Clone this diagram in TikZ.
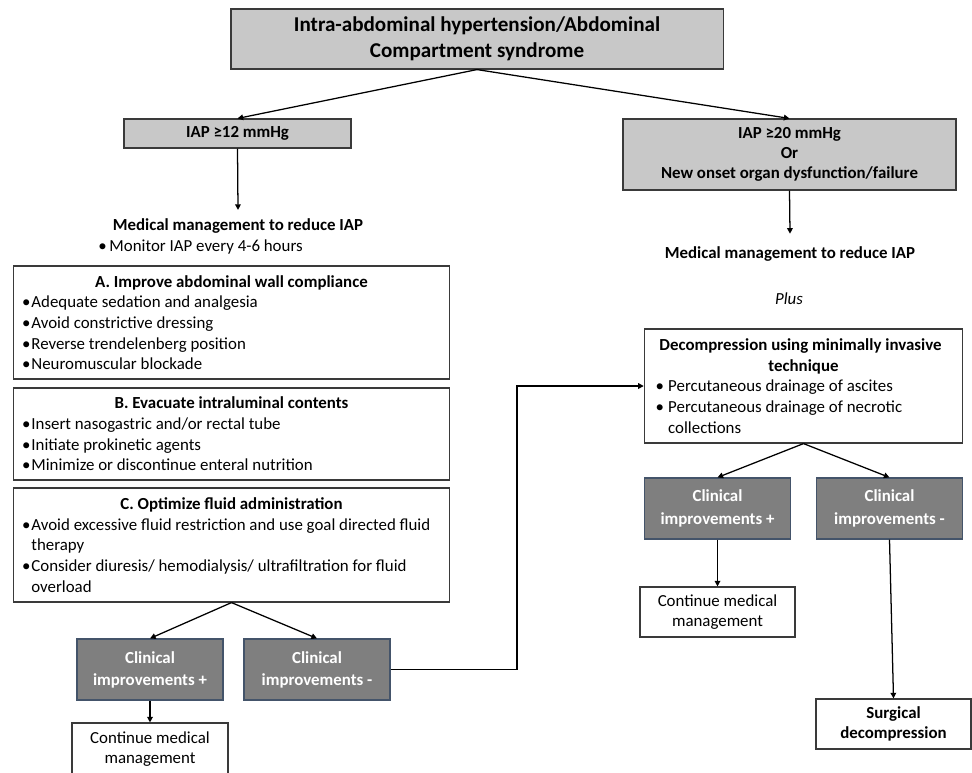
\documentclass[tikz,border=0pt]{standalone}
\usepackage{fontspec}
\setmainfont{Carlito}
\usepackage{tikz}
\usetikzlibrary{positioning,calc,arrows.meta}
\definecolor{clight}{HTML}{C8C8C8}
\definecolor{cdark}{HTML}{7F7F7F}
\definecolor{cedge}{HTML}{44546A}
\definecolor{cline}{HTML}{3A3A3A}
\setlength{\parindent}{0pt}
\newcommand{\bitem}[3][5.2pt]{\par\noindent\hangindent=\dimexpr#1+#2\relax\hangafter=1\hspace*{#2}\makebox[#1][l]{\textbullet}#3\par}
\newcommand{\boxhead}[1]{{\noindent\centering\bfseries #1\par}}

\begin{document}
\begin{tikzpicture}[x=0.025cm,y=-0.025cm,>={Triangle[length=4pt,width=4pt]},
    every node/.style={font=\fontsize{12}{14.7}\selectfont},
    greybox/.style={draw=cline,fill=clight,line width=0.8pt,align=center,font=\fontsize{12}{14.7}\selectfont\bfseries},
    clinbox/.style={draw=cedge,fill=cdark,line width=0.8pt,align=center,text=white,
      minimum width=3.65cm,minimum height=1.525cm,font=\fontsize{12}{15.8}\selectfont\bfseries},
    whitebox/.style={draw=cline,line width=0.8pt,align=center,minimum width=3.9cm,minimum height=1.27cm},
    listbox/.style={draw=cline,line width=0.8pt,align=flush left,inner xsep=5pt,text width=10.55cm,minimum width=10.875cm},
    link/.style={->,line width=0.9pt,black}]
    \useasboundingbox (0,0) rectangle (972,772);
    % top and the two pressure levels
    \node[greybox,minimum width=12.3cm,minimum height=1.5cm,font=\fontsize{15}{18.4}\selectfont\bfseries]
      (ias) at (477,39) {Intra-abdominal hypertension/Abdominal\\Compartment syndrome};
    \node[greybox,minimum width=5.675cm,minimum height=0.725cm] (iap12) at (237.5,133.5) {IAP ≥12 mmHg};
    \node[greybox,minimum width=8.325cm,minimum height=1.775cm,font=\fontsize{12}{14.2}\selectfont\bfseries]
      (iap20) at (789.5,154.5) {IAP ≥20 mmHg\\Or\\New onset organ dysfunction/failure};
    \draw[link] (ias.south) -- (iap12.north);
    \draw[link] (ias.south) -- (iap20.north);
    % left branch: medical management
    \node[font=\fontsize{12}{14.7}\selectfont\bfseries,inner ysep=6pt] (medL) at (238,226) {Medical management to reduce IAP};
    \node[anchor=west,inner sep=0pt] (monitor) at (98,247) {\textbullet\hspace{2pt}Monitor IAP every 4-6 hours};
    \draw[link] (iap12.south) -- (medL.north);
    \node[listbox,minimum height=2.825cm] (boxA) at (231.5,322.5) {%
      \boxhead{A. Improve abdominal wall compliance}
      \bitem[6.6pt]{1.2pt}{Adequate sedation and analgesia}
      \bitem[6.6pt]{1.2pt}{Avoid constrictive dressing}
      \bitem[6.6pt]{1.2pt}{Reverse trendelenberg position}
      \bitem[6.6pt]{1.2pt}{Neuromuscular blockade}};
    \node[listbox,minimum height=2.3cm] (boxB) at (231.5,434) {%
      \boxhead{B. Evacuate intraluminal contents}
      \bitem[6.6pt]{1.2pt}{Insert nasogastric and/or rectal tube}
      \bitem[6.6pt]{1.2pt}{Initiate prokinetic agents}
      \bitem[6.6pt]{1.2pt}{Minimize or discontinue enteral nutrition}};
    \node[listbox,minimum height=2.85cm] (boxC) at (231.5,545) {%
      \boxhead{C. Optimize fluid administration}
      \bitem[6.6pt]{1.2pt}{Avoid excessive fluid restriction and use goal directed fluid\newline therapy}
      \bitem[6.6pt]{1.2pt}{Consider diuresis/ hemodialysis/ ultrafiltration for fluid\newline overload}};
    \node[clinbox] (clinpL) at (150,669.5) {Clinical\\improvements +};
    \node[clinbox] (clinmL) at (317,669.5) {Clinical\\improvements -};
    \node[whitebox,minimum height=1.3cm] (contL) at (150,749) {Continue medical\\management};
    \draw[link] (boxC.south) -- (clinpL.north);
    \draw[link] (boxC.south) -- (clinmL.north);
    \draw[link] (clinpL.south) -- (contL.north);
    % right branch: decompression
    \node[font=\fontsize{12}{14.7}\selectfont\bfseries,inner ysep=9pt] (medR) at (790,254) {Medical management to reduce IAP};
    \node[font=\fontsize{12}{14.7}\selectfont\itshape] (plus) at (789,299) {Plus};
    \draw[link] (iap20.south) -- (medR.north);
    \node[draw=cline,line width=0.8pt,align=flush left,inner xsep=6.5pt,text width=7.5cm,minimum width=7.925cm,minimum height=2.85cm]
      (decomp) at (803.5,386) {%
      \boxhead{Decompression using minimally invasive\newline technique}
      \bitem[9pt]{1.5pt}{Percutaneous drainage of ascites}
      \bitem[9pt]{1.5pt}{Percutaneous drainage of necrotic\newline collections}};
    \coordinate (bend) at (517,669.5);
    \draw[link] (clinmL.east) -- (bend) |- (decomp.west);
    \node[clinbox] (clinpR) at (717.5,508.5) {Clinical\\improvements +};
    \node[clinbox] (clinmR) at (889.5,508.5) {Clinical\\improvements -};
    \draw[link] (decomp.south) -- (clinpR.north);
    \draw[link] (decomp.south) -- (clinmR.north);
    \node[whitebox,minimum width=3.875cm,minimum height=1.25cm] (contR) at (717.5,612) {Continue medical\\management};
    \node[whitebox,minimum width=3.875cm,minimum height=1.25cm,font=\fontsize{12}{14.7}\selectfont\bfseries]
      (surg) at (893.5,724) {Surgical\\decompression};
    \draw[link] (clinpR.south) -- (contR.north);
    \draw[link] (clinmR.south) -- (surg.north);
\end{tikzpicture}
\end{document}
